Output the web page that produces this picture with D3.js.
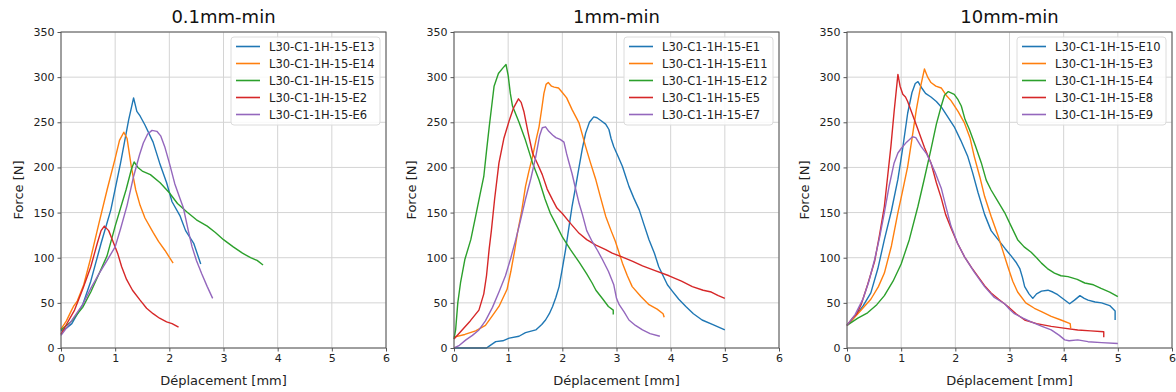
<!DOCTYPE html>
<html>
<head>
<meta charset="utf-8">
<script src="https://cdn.jsdelivr.net/npm/d3@7"></script>
<style>
  body { margin: 0; background: #fff; }
  svg { display: block; font-family: "DejaVu Sans", sans-serif; }
  .tick text { fill: #222; }
</style>
</head>
<body>
<svg id="chart" width="1176" height="392"></svg>
<script>
/* Force / déplacement curves, three loading speeds */

var panelTitles = ["0.1mm-min", "1mm-min", "10mm-min"];
var xTicks = [0, 1, 2, 3, 4, 5, 6];
var yTicks = [0, 50, 100, 150, 200, 250, 300, 350];
var colors = ["#1f77b4", "#ff7f0e", "#2ca02c", "#d62728", "#9467bd"];

// ---- 0.1 mm/min ----
var names01 = ["L30-C1-1H-15-E13", "L30-C1-1H-15-E14", "L30-C1-1H-15-E15", "L30-C1-1H-15-E2", "L30-C1-1H-15-E6"];
var e13 = [[0,19],[0.1,22],[0.2,27],[0.4,48],[0.55,74],[0.74,116],[0.92,153],[1.1,205],[1.25,253],[1.34,277],[1.4,262],[1.46,257],[1.55,247],[1.7,228],[1.82,205],[1.95,183],[2.05,162],[2.2,146],[2.3,130],[2.45,116],[2.58,93]];
var e14 = [[0,21],[0.1,30],[0.18,40],[0.23,46],[0.3,52],[0.42,70],[0.55,100],[0.7,138],[0.85,175],[1.0,210],[1.08,230],[1.16,239],[1.22,232],[1.3,200],[1.38,175],[1.46,158],[1.55,144],[1.7,128],[1.8,118],[1.92,108],[2.07,94]];
var e15 = [[0,20],[0.2,30],[0.4,45],[0.55,62],[0.7,82],[0.85,102],[1.0,135],[1.1,155],[1.2,175],[1.3,198],[1.35,206],[1.42,200],[1.5,196],[1.65,192],[1.83,183],[2.0,172],[2.15,160],[2.32,151],[2.5,142],[2.7,135],[2.85,128],[3.0,120],[3.18,112],[3.35,105],[3.5,100],[3.62,97],[3.73,92]];
var e2 = [[0,15],[0.1,26],[0.25,42],[0.4,65],[0.55,90],[0.67,116],[0.74,130],[0.8,135],[0.88,130],[0.96,118],[1.05,104],[1.12,90],[1.21,76],[1.32,64],[1.46,53],[1.58,44],[1.7,38],[1.82,33],[1.95,29],[2.05,27],[2.17,23]];
var e6 = [[0,14],[0.1,22],[0.25,35],[0.4,48],[0.55,66],[0.7,82],[0.86,98],[1.0,112],[1.1,132],[1.22,158],[1.34,190],[1.45,214],[1.52,227],[1.6,237],[1.68,241],[1.77,240],[1.84,235],[1.92,222],[2.0,205],[2.1,182],[2.2,165],[2.26,155],[2.35,130],[2.42,112],[2.5,97],[2.6,82],[2.7,68],[2.8,55]];

// ---- 1 mm/min ----
var names1 = ["L30-C1-1H-15-E1", "L30-C1-1H-15-E11", "L30-C1-1H-15-E12", "L30-C1-1H-15-E5", "L30-C1-1H-15-E7"];
var e1 = [[0,0],[0.6,0],[0.65,2],[0.77,7],[0.9,8],[1.02,11],[1.2,13],[1.32,17],[1.51,20],[1.62,26],[1.69,31],[1.76,38],[1.82,46],[1.88,56],[1.94,68],[2.0,88],[2.06,109],[2.12,133],[2.18,157],[2.25,180],[2.31,201],[2.37,221],[2.43,238],[2.5,250],[2.58,256],[2.64,255],[2.71,252],[2.8,248],[2.86,242],[2.9,232],[2.95,223],[3.03,212],[3.11,201],[3.17,190],[3.23,179],[3.32,166],[3.42,153],[3.5,138],[3.6,120],[3.7,105],[3.78,90],[3.86,80],[3.94,70],[4.03,63],[4.15,54],[4.28,46],[4.42,38],[4.58,31],[4.78,26],[5.0,20]];
var e11 = [[0,12],[0.2,15],[0.4,19],[0.58,25],[0.7,35],[0.83,46],[0.98,65],[1.05,85],[1.12,108],[1.17,127],[1.25,152],[1.32,179],[1.38,195],[1.45,212],[1.52,232],[1.57,245],[1.62,265],[1.66,282],[1.7,292],[1.74,294],[1.8,290],[1.85,289],[1.93,288],[2.0,283],[2.08,277],[2.18,264],[2.25,256],[2.31,249],[2.37,236],[2.43,223],[2.52,205],[2.62,186],[2.7,168],[2.8,146],[2.9,130],[2.98,118],[3.05,105],[3.11,94],[3.2,80],[3.29,68],[3.45,57],[3.6,48],[3.75,43],[3.86,38],[3.88,34]];
var e12 = [[0,10],[0.03,20],[0.07,50],[0.12,72],[0.2,98],[0.31,120],[0.4,146],[0.48,170],[0.55,190],[0.6,218],[0.65,245],[0.7,270],[0.74,290],[0.82,304],[0.9,310],[0.96,314],[1.0,302],[1.04,282],[1.08,268],[1.2,250],[1.32,230],[1.45,205],[1.57,186],[1.68,165],[1.78,149],[1.9,135],[2.0,123],[2.15,109],[2.31,95],[2.45,82],[2.55,72],[2.62,64],[2.75,54],[2.85,46],[2.94,42],[2.94,37]];
var e5 = [[0,10],[0.15,20],[0.3,30],[0.46,42],[0.55,60],[0.6,80],[0.65,110],[0.69,130],[0.75,165],[0.83,205],[0.92,232],[1.02,252],[1.1,266],[1.19,276],[1.24,272],[1.29,262],[1.37,238],[1.45,216],[1.55,203],[1.63,192],[1.72,176],[1.82,164],[1.9,155],[2.0,149],[2.15,138],[2.31,127],[2.45,120],[2.62,114],[2.8,109],[2.92,105],[3.1,101],[3.3,96],[3.48,91],[3.7,86],[3.97,80],[4.2,74],[4.4,68],[4.6,64],[4.75,62],[4.88,58],[5.0,55]];
var e7 = [[0,0],[0.1,3],[0.22,9],[0.34,14],[0.46,20],[0.58,30],[0.71,45],[0.83,62],[0.95,80],[1.05,100],[1.14,120],[1.23,142],[1.32,165],[1.42,188],[1.51,212],[1.58,235],[1.63,244],[1.69,245],[1.75,240],[1.82,236],[1.88,233],[1.96,231],[2.03,228],[2.08,215],[2.12,206],[2.18,193],[2.25,175],[2.31,160],[2.37,148],[2.45,130],[2.55,118],[2.65,108],[2.74,98],[2.85,85],[2.95,70],[3.0,55],[3.05,48],[3.14,40],[3.23,31],[3.35,25],[3.48,20],[3.62,16],[3.8,13]];

// ---- 10 mm/min ----
var names10 = ["L30-C1-1H-15-E10", "L30-C1-1H-15-E3", "L30-C1-1H-15-E4", "L30-C1-1H-15-E8", "L30-C1-1H-15-E9"];
var e10 = [[0,25],[0.15,35],[0.3,47],[0.44,61],[0.57,88],[0.69,120],[0.82,152],[0.94,187],[1.03,222],[1.12,260],[1.2,283],[1.26,293],[1.31,295],[1.38,288],[1.45,282],[1.55,278],[1.65,273],[1.74,267],[1.86,256],[1.98,245],[2.1,230],[2.23,212],[2.32,194],[2.42,172],[2.54,148],[2.66,130],[2.79,120],[2.92,110],[3.03,102],[3.12,95],[3.19,88],[3.24,78],[3.28,68],[3.36,60],[3.43,55],[3.5,60],[3.59,63],[3.71,64],[3.8,62],[3.89,59],[4.0,54],[4.11,49],[4.2,53],[4.3,58],[4.38,55],[4.45,53],[4.58,51],[4.7,50],[4.85,47],[4.95,41],[4.95,31]];
var e3 = [[0,25],[0.2,38],[0.44,54],[0.58,68],[0.69,83],[0.82,113],[0.94,150],[1.02,172],[1.12,201],[1.2,232],[1.28,264],[1.36,290],[1.43,309],[1.49,300],[1.55,294],[1.64,290],[1.74,288],[1.83,280],[1.92,274],[2.05,262],[2.17,249],[2.27,233],[2.35,212],[2.45,190],[2.54,168],[2.66,146],[2.79,124],[2.88,107],[2.97,90],[3.06,74],[3.15,62],[3.3,50],[3.46,44],[3.6,40],[3.77,35],[3.95,31],[4.12,27],[4.13,22]];
var e4 = [[0,25],[0.2,33],[0.38,39],[0.55,48],[0.69,58],[0.85,74],[1.0,93],[1.15,120],[1.31,157],[1.43,188],[1.55,220],[1.65,248],[1.74,268],[1.8,280],[1.87,284],[1.98,281],[2.05,275],[2.11,268],[2.18,253],[2.26,242],[2.37,224],[2.48,205],[2.57,186],[2.66,175],[2.78,163],[2.91,150],[3.03,135],[3.15,120],[3.27,112],[3.4,106],[3.5,100],[3.59,94],[3.7,88],[3.83,83],[3.95,80],[4.08,79],[4.25,76],[4.39,72],[4.55,70],[4.69,66],[4.85,62],[5.0,57]];
var e8 = [[0,25],[0.1,33],[0.18,38],[0.26,48],[0.38,70],[0.51,96],[0.6,125],[0.69,157],[0.75,190],[0.81,223],[0.87,262],[0.94,303],[0.98,290],[1.03,281],[1.08,278],[1.12,273],[1.2,260],[1.31,242],[1.43,222],[1.55,205],[1.65,183],[1.74,166],[1.82,148],[1.92,133],[2.04,116],[2.17,101],[2.3,89],[2.42,79],[2.54,69],[2.66,61],[2.8,54],[2.97,46],[3.12,38],[3.28,31],[3.5,27],[3.77,24],[4.0,22],[4.26,20],[4.5,19],[4.74,18],[4.74,12]];
var e9 = [[0,25],[0.15,37],[0.3,55],[0.4,73],[0.51,98],[0.6,122],[0.69,150],[0.78,180],[0.87,205],[0.94,216],[1.0,221],[1.1,228],[1.21,234],[1.27,233],[1.37,223],[1.47,215],[1.55,205],[1.63,194],[1.74,177],[1.82,158],[1.92,135],[2.04,116],[2.17,101],[2.35,84],[2.54,68],[2.72,56],[2.91,49],[3.0,43],[3.09,38],[3.25,33],[3.4,29],[3.6,24],[3.77,20],[3.92,14],[4.02,9],[4.1,8],[4.26,9],[4.45,7],[4.7,6],[5.0,5]];

var panels = [
  { title: panelTitles[0], names: names01, series: [e13, e14, e15, e2, e6] },
  { title: panelTitles[1], names: names1, series: [e1, e11, e12, e5, e7] },
  { title: panelTitles[2], names: names10, series: [e10, e3, e4, e8, e9] }
];

var svg = d3.select("#chart");
var panelLeft = [61, 454, 847];
var plotTop = 32, w = 325, h = 316;

panels.forEach(function (p, i) {
  var g = svg.append("g").attr("transform", "translate(" + panelLeft[i] + "," + plotTop + ")");

  var x = d3.scaleLinear().domain([0, 6]).range([0, w]);
  var y = d3.scaleLinear().domain([0, 350]).range([h, 0]);

  // grid
  g.append("g").selectAll("line").data(xTicks).join("line")
    .attr("x1", function (d) { return x(d); }).attr("x2", function (d) { return x(d); })
    .attr("y1", 0).attr("y2", h)
    .attr("stroke", "#d4d4d4").attr("stroke-width", 1);
  g.append("g").selectAll("line").data(yTicks).join("line")
    .attr("y1", function (d) { return y(d); }).attr("y2", function (d) { return y(d); })
    .attr("x1", 0).attr("x2", w)
    .attr("stroke", "#d4d4d4").attr("stroke-width", 1);

  // curves
  var line = d3.line()
    .x(function (d) { return x(d[0]); })
    .y(function (d) { return y(d[1]); });
  p.series.forEach(function (s, k) {
    g.append("path").datum(s)
      .attr("fill", "none")
      .attr("stroke", colors[k])
      .attr("stroke-width", 1.4)
      .attr("stroke-linejoin", "round")
      .attr("d", line);
  });

  // spines
  g.append("rect").attr("width", w).attr("height", h)
    .attr("fill", "none").attr("stroke", "#555").attr("stroke-width", 1);

  // axes
  var xa = g.append("g").attr("transform", "translate(0," + h + ")")
    .call(d3.axisBottom(x).tickValues(xTicks).tickSize(3.5).tickPadding(3).tickFormat(d3.format("d")));
  var ya = g.append("g")
    .call(d3.axisLeft(y).tickValues(yTicks).tickSize(3.5).tickPadding(3).tickFormat(d3.format("d")));
  [xa, ya].forEach(function (a) {
    a.select(".domain").remove();
    a.selectAll(".tick line").attr("stroke", "#555");
    a.selectAll(".tick text").attr("font-size", 11).attr("font-family", "DejaVu Sans");
  });

  // title and labels
  g.append("text").attr("x", w / 2).attr("y", -9)
    .attr("text-anchor", "middle").attr("font-size", 18).attr("fill", "#111")
    .text(p.title);
  g.append("text").attr("x", w / 2).attr("y", h + 37)
    .attr("text-anchor", "middle").attr("font-size", 13).attr("fill", "#222")
    .text("Déplacement [mm]");
  g.append("text")
    .attr("transform", "translate(-38," + (h / 2) + ") rotate(-90)")
    .attr("text-anchor", "middle").attr("font-size", 13).attr("fill", "#222")
    .text("Force [N]");

  // legend
  var lg = g.append("g").attr("transform", "translate(" + (w - 155) + ",5)");
  lg.append("rect").attr("width", 149).attr("height", 88).attr("rx", 3)
    .attr("fill", "#fff").attr("fill-opacity", 0.85)
    .attr("stroke", "#dcdcdc").attr("stroke-width", 1);
  p.names.forEach(function (n, k) {
    var ly = 9.5 + k * 17;
    lg.append("line").attr("x1", 5).attr("x2", 29).attr("y1", ly).attr("y2", ly)
      .attr("stroke", colors[k]).attr("stroke-width", 1.6);
    lg.append("text").attr("x", 38).attr("y", ly + 4).attr("font-size", 11.5).attr("fill", "#222")
      .text(n);
  });
});
</script>
</body>
</html>
